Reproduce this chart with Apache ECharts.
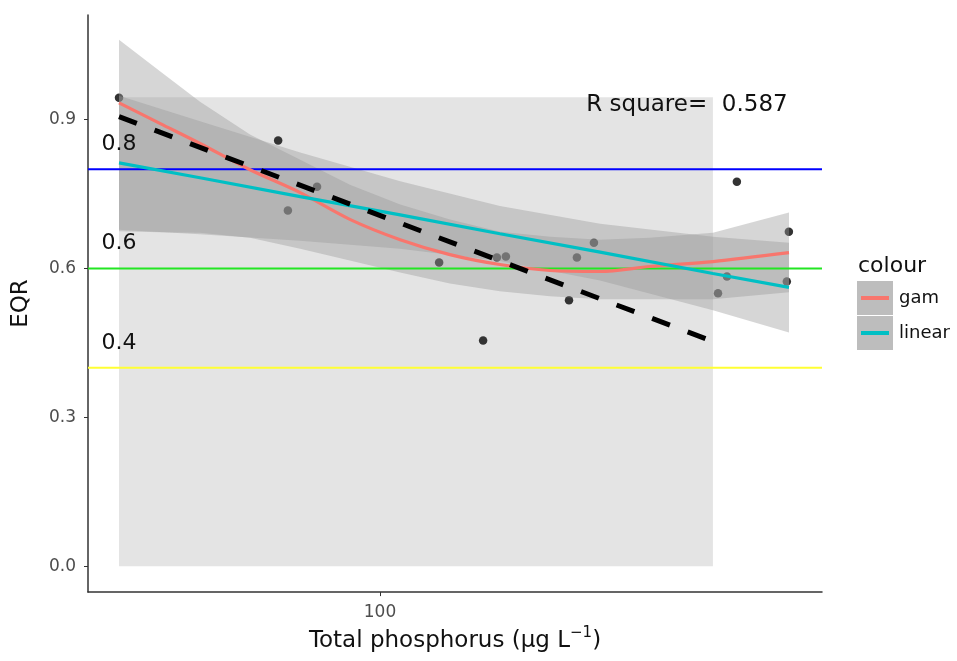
<!DOCTYPE html>
<html>
<head>
<meta charset="utf-8">
<title>EQR vs total phosphorus</title>
<script src="https://cdn.jsdelivr.net/npm/echarts@6.0.0/dist/echarts.min.js"></script>
<style>
  html, body { margin: 0; padding: 0; background: #ffffff; }
  #chart { width: 957px; height: 661px; }
</style>
</head>
<body>
<div id="chart"></div>
<script>
// ---- observed sites: total phosphorus (µg/L) and EQR ----
const siteTP  = [50.0, 76.3, 78.3, 84.6, 117.0, 131.5, 136.4, 139.7, 165.2, 168.7, 176.5, 245.4, 251.3, 258.0, 296.2, 294.6];
const siteEQR = [0.944, 0.858, 0.717, 0.765, 0.612, 0.455, 0.622, 0.624, 0.536, 0.622, 0.652, 0.550, 0.584, 0.775, 0.674, 0.574];

// ---- GAM smooth with confidence band ----
const gamTP    = [50.0, 55.8, 62.0, 70.8, 80.9, 92.3, 105.5, 120.4, 137.5, 157.1, 179.4, 204.8, 242.1, 296.3];
const gamFit   = [0.934, 0.892, 0.852, 0.799, 0.753, 0.699, 0.658, 0.628, 0.608, 0.596, 0.594, 0.604, 0.614, 0.632];
const gamUpper = [1.061, 0.997, 0.936, 0.870, 0.819, 0.769, 0.729, 0.699, 0.674, 0.664, 0.658, 0.662, 0.672, 0.713];
const gamLower = [0.675, 0.673, 0.672, 0.662, 0.640, 0.616, 0.592, 0.570, 0.554, 0.544, 0.538, 0.538, 0.538, 0.552];

// ---- linear fit with confidence band ----
const linTP    = [50.0, 62.0, 80.9, 105.5, 137.5, 179.4, 242.1, 296.3];
const linFit   = [0.813, 0.783, 0.745, 0.708, 0.670, 0.633, 0.590, 0.562];
const linUpper = [0.948, 0.897, 0.834, 0.776, 0.726, 0.690, 0.664, 0.652];
const linLower = [0.678, 0.669, 0.656, 0.640, 0.615, 0.576, 0.516, 0.471];

// ---- reference regression (dashed) ----
const refTP  = [50.0, 242.1];
const refEQR = [0.906, 0.453];

// ---- shaded calibration range ----
const boxTP  = [50.0, 242.1];
const boxEQR = [0.0, 0.945];

// ---- class boundaries ----
const classBounds = [0.8, 0.6, 0.4];
const classColors = ['#0000ff', '#22e622', '#ffff33'];
const classLabels = ['0.8', '0.6', '0.4'];
const classLabelEQR = [0.85, 0.65, 0.45];
const classLabelTP = 50.0;

const rSquare = 0.587;
const rSquareTP = 226;
const rSquareEQR = 0.93;

const xTicks = [100];
const yTicks = [0.0, 0.3, 0.6, 0.9];

// ---- layout / styling ----
const FONT = '"DejaVu Sans", Verdana, sans-serif';
const X_MIN = 1.6632, X_MAX = 2.5098;      // log10(TP) extent
const Y_MIN = -0.0523, Y_MAX = 1.111;
const BAND_FILL = 'rgba(153,153,153,0.4)';
const GAM_COLOR = '#F8766D';
const LIN_COLOR = '#00BFC4';
const TEXT_DARK = '#111111';

const lg = Math.log10;

function bandSeries(xs, lo, hi, z) {
  const rows = xs.map((x, i) => [lg(x), lo[i], hi[i]]);
  return {
    type: 'custom',
    z: z,
    silent: true,
    data: rows,
    encode: { x: 0, y: [1, 2] },
    renderItem: function (params, api) {
      if (params.dataIndex !== 0) return null;
      const pts = [];
      for (let i = 0; i < rows.length; i++) pts.push(api.coord([rows[i][0], rows[i][2]]));
      for (let i = rows.length - 1; i >= 0; i--) pts.push(api.coord([rows[i][0], rows[i][1]]));
      return { type: 'polygon', shape: { points: pts }, style: { fill: BAND_FILL } };
    }
  };
}

function lineSeries(xs, ys, color, z, extra) {
  return Object.assign({
    type: 'line',
    z: z,
    silent: true,
    showSymbol: false,
    symbol: 'none',
    data: xs.map((x, i) => [lg(x), ys[i]]),
    lineStyle: { color: color, width: 3.2 }
  }, extra || {});
}

// text placed at data coordinates, drawn by a custom series
function textSeries(items, fontSize) {
  return {
    type: 'custom',
    z: 7,
    silent: true,
    data: items.map(it => [lg(it.tp), it.eqr]),
    encode: { x: 0, y: 1 },
    renderItem: function (params, api) {
      const p = api.coord([api.value(0), api.value(1)]);
      return {
        type: 'text',
        x: p[0], y: p[1],
        style: {
          text: items[params.dataIndex].text,
          font: fontSize + 'px ' + FONT,
          fill: TEXT_DARK,
          align: 'center',
          verticalAlign: 'middle'
        }
      };
    }
  };
}

const series = [];

// calibration range rectangle
series.push({
  type: 'custom',
  z: 1,
  silent: true,
  data: [[lg(boxTP[0]), lg(boxTP[1]), boxEQR[0], boxEQR[1]]],
  encode: { x: [0, 1], y: [2, 3] },
  renderItem: function (params, api) {
    const p0 = api.coord([api.value(0), api.value(3)]);
    const p1 = api.coord([api.value(1), api.value(2)]);
    return { type: 'rect', shape: { x: p0[0], y: p0[1], width: p1[0] - p0[0], height: p1[1] - p0[1] }, style: { fill: '#e4e4e4' } };
  }
});

// sites
series.push({
  type: 'scatter',
  z: 2,
  silent: true,
  symbolSize: 8.5,
  itemStyle: { color: '#333333', opacity: 1 },
  data: siteTP.map((t, i) => [lg(t), siteEQR[i]])
});

// confidence bands
series.push(bandSeries(gamTP, gamLower, gamUpper, 3));
series.push(bandSeries(linTP, linLower, linUpper, 3));

// class boundary lines
classBounds.forEach((v, i) => {
  series.push({
    type: 'line', z: 4, silent: true, symbol: 'none', showSymbol: false,
    data: [[X_MIN, v], [X_MAX, v]],
    lineStyle: { color: classColors[i], width: 2 }
  });
});

// fitted curves
series.push(lineSeries(gamTP, gamFit, GAM_COLOR, 5, { smooth: 0.3 }));
series.push(lineSeries(linTP, linFit, LIN_COLOR, 5));

// reference regression
series.push(lineSeries(refTP, refEQR, '#000000', 6, {
  lineStyle: { color: '#000000', width: 5, type: [19, 19], cap: 'butt' }
}));

// text annotations
series.push(textSeries(classLabels.map((t, i) => ({ tp: classLabelTP, eqr: classLabelEQR[i], text: t })), 22));
series.push(textSeries([{ tp: rSquareTP, eqr: rSquareEQR, text: 'R square=  ' + rSquare.toFixed(3) }], 23));

const axisLineStyle = { color: '#333333', width: 1.5 };

const option = {
  animation: false,
  backgroundColor: '#ffffff',
  textStyle: { fontFamily: FONT },
  grid: { left: 88, right: 135, top: 15, bottom: 68, containLabel: false },
  xAxis: {
    type: 'value',
    min: X_MIN, max: X_MAX,
    axisLine: { show: true, onZero: false, lineStyle: axisLineStyle },
    axisTick: { show: true, customValues: xTicks.map(lg), length: 4, lineStyle: { color: '#333333' } },
    axisLabel: {
      customValues: xTicks.map(lg),
      formatter: v => String(Math.round(Math.pow(10, v))),
      fontFamily: FONT, fontSize: 17, color: '#4d4d4d', margin: 12
    },
    splitLine: { show: false },
    name: 'Total phosphorus (μg L{sup|−1})',
    nameLocation: 'middle',
    nameGap: 29,
    nameTextStyle: {
      fontFamily: FONT, fontSize: 23, color: TEXT_DARK, lineHeight: 30,
      rich: { sup: { fontFamily: FONT, fontSize: 15, color: TEXT_DARK, verticalAlign: 'top', lineHeight: 15 } }
    }
  },
  yAxis: {
    type: 'value',
    min: Y_MIN, max: Y_MAX,
    axisLine: { show: true, onZero: false, lineStyle: axisLineStyle },
    axisTick: { show: true, customValues: yTicks, length: 4, lineStyle: { color: '#333333' } },
    axisLabel: {
      customValues: yTicks,
      formatter: v => v.toFixed(1),
      fontFamily: FONT, fontSize: 17, color: '#4d4d4d', margin: 12
    },
    splitLine: { show: false },
    name: 'EQR',
    nameLocation: 'middle',
    nameGap: 55,
    nameTextStyle: { fontFamily: FONT, fontSize: 23, color: TEXT_DARK }
  },
  graphic: [
    { type: 'text', x: 858, y: 266, style: { text: 'colour', font: '22px ' + FONT, fill: TEXT_DARK, align: 'left', verticalAlign: 'middle' } },
    { type: 'rect', shape: { x: 857, y: 281, width: 36, height: 34 }, style: { fill: '#bdbdbd' } },
    { type: 'rect', shape: { x: 857, y: 316, width: 36, height: 34 }, style: { fill: '#bdbdbd' } },
    { type: 'line', shape: { x1: 861, y1: 298, x2: 889, y2: 298 }, style: { stroke: GAM_COLOR, lineWidth: 4 } },
    { type: 'line', shape: { x1: 861, y1: 333, x2: 889, y2: 333 }, style: { stroke: LIN_COLOR, lineWidth: 4 } },
    { type: 'text', x: 899, y: 298, style: { text: 'gam', font: '18px ' + FONT, fill: TEXT_DARK, align: 'left', verticalAlign: 'middle' } },
    { type: 'text', x: 899, y: 333, style: { text: 'linear', font: '18px ' + FONT, fill: TEXT_DARK, align: 'left', verticalAlign: 'middle' } }
  ],
  series: series
};

const chart = echarts.init(document.getElementById('chart'), null, { renderer: 'canvas' });
chart.setOption(option);
</script>
</body>
</html>
